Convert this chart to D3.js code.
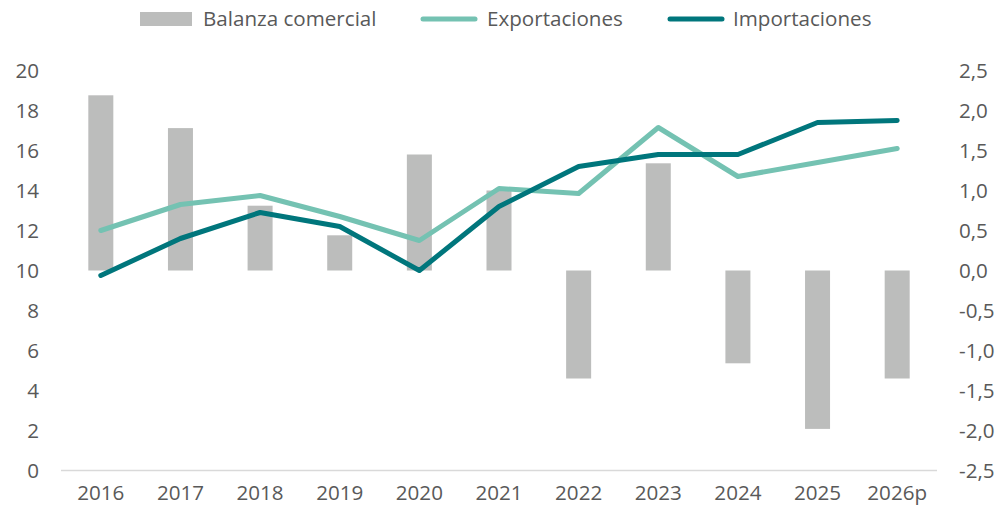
<!DOCTYPE html>
<html>
<head>
<meta charset="utf-8">
<script src="https://cdn.jsdelivr.net/npm/d3@7"></script>
<style>
    body { margin: 0; background: #fff; }
    text { font-family: "Open Sans", sans-serif; fill: #595959; }
</style>
</head>
<body>
<svg id="chart" width="1001" height="513"></svg>
<script>
// Chart data.
var years = ['2016', '2017', '2018', '2019', '2020', '2021', '2022', '2023', '2024', '2025', '2026p'];
var balanza = [2.19, 1.78, 0.81, 0.44, 1.45, 1.0, -1.35, 1.34, -1.16, -1.98, -1.35];
var exportaciones = [12.0, 13.3, 13.75, 12.7, 11.5, 14.1, 13.85, 17.15, 14.7, 15.4, 16.1];
var importaciones = [9.75, 11.6, 12.9, 12.2, 10.0, 13.2, 15.2, 15.8, 15.8, 17.4, 17.5];
var leftTicks = [0, 2, 4, 6, 8, 10, 12, 14, 16, 18, 20];
var rightTicks = [-2.5, -2, -1.5, -1, -0.5, 0, 0.5, 1, 1.5, 2, 2.5];

var colors = {
    bar: '#bcbdbc',
    exp: '#74c2b2',
    imp: '#00767c'
};

var fontSize = '20.6px';

var svg = d3.select('#chart');

var x = d3.scaleBand()
    .domain(years)
    .range([61, 937])
    .paddingInner(0.686)
    .paddingOuter(0.343);

var xc = function (d) {
    return x(d) + x.bandwidth() / 2;
};

var yLeft = d3.scaleLinear().domain([0, 20]).range([470.5, 70.5]);
var yRight = d3.scaleLinear().domain([-2.5, 2.5]).range([470.5, 70.5]);

// Bars (right axis).
svg.append('g')
    .selectAll('rect')
    .data(balanza)
    .enter()
    .append('rect')
    .attr('x', function (d, i) { return x(years[i]); })
    .attr('width', x.bandwidth())
    .attr('y', function (d) { return yRight(Math.max(0, d)); })
    .attr('height', function (d) { return Math.abs(yRight(d) - yRight(0)); })
    .style('fill', colors.bar);

// Base line.
svg.append('line')
    .attr('x1', 61)
    .attr('x2', 937)
    .attr('y1', yLeft(0))
    .attr('y2', yLeft(0))
    .style('stroke', '#d9d9d9')
    .style('stroke-width', 1.5);

// Lines (left axis).
var line = d3.line()
    .x(function (d, i) { return xc(years[i]); })
    .y(function (d) { return yLeft(d); });

[[exportaciones, colors.exp], [importaciones, colors.imp]].forEach(function (s) {
    svg.append('path')
        .datum(s[0])
        .attr('d', line)
        .style('fill', 'none')
        .style('stroke', s[1])
        .style('stroke-width', 5)
        .style('stroke-linejoin', 'round')
        .style('stroke-linecap', 'round');
});

// Axes.
var fmt = d3.formatLocale({ decimal: ',', thousands: '.', grouping: [3], currency: ['', ''], minus: '-' });

var leftAxis = svg.append('g')
    .attr('transform', 'translate(39,0)')
    .call(d3.axisLeft(yLeft).tickValues(leftTicks).tickSize(0).tickPadding(0));

var rightAxis = svg.append('g')
    .attr('transform', 'translate(959,0)')
    .call(d3.axisRight(yRight).tickValues(rightTicks).tickSize(0).tickPadding(0)
        .tickFormat(fmt.format('.1f')));

var bottomAxis = svg.append('g')
    .attr('transform', 'translate(0,' + 481 + ')')
    .call(d3.axisBottom(x).tickSize(0).tickPadding(0));

[leftAxis, rightAxis, bottomAxis].forEach(function (g) {
    g.select('.domain').remove();
    g.selectAll('text')
        .style('font-family', '"Open Sans", sans-serif')
        .style('font-size', fontSize)
        .style('fill', '#595959');
});

leftAxis.selectAll('text').attr('dy', '0.35em');
rightAxis.selectAll('text').attr('dy', '0.35em');
bottomAxis.selectAll('text').attr('dy', '0.9em');

// Legend.
var legend = svg.append('g');

legend.append('rect')
    .attr('x', 140).attr('y', 12)
    .attr('width', 52).attr('height', 14)
    .style('fill', colors.bar);

legend.append('text')
    .attr('x', 203).attr('y', 26)
    .style('font-size', fontSize)
    .text('Balanza comercial');

[[423, 487, colors.exp, 'Exportaciones'], [670, 733, colors.imp, 'Importaciones']].forEach(function (l) {
    legend.append('line')
        .attr('x1', l[0]).attr('x2', l[0] + 52)
        .attr('y1', 19).attr('y2', 19)
        .style('stroke', l[2])
        .style('stroke-width', 5)
        .style('stroke-linecap', 'round');

    legend.append('text')
        .attr('x', l[1]).attr('y', 26)
        .style('font-size', fontSize)
        .text(l[3]);
});
</script>
</body>
</html>
